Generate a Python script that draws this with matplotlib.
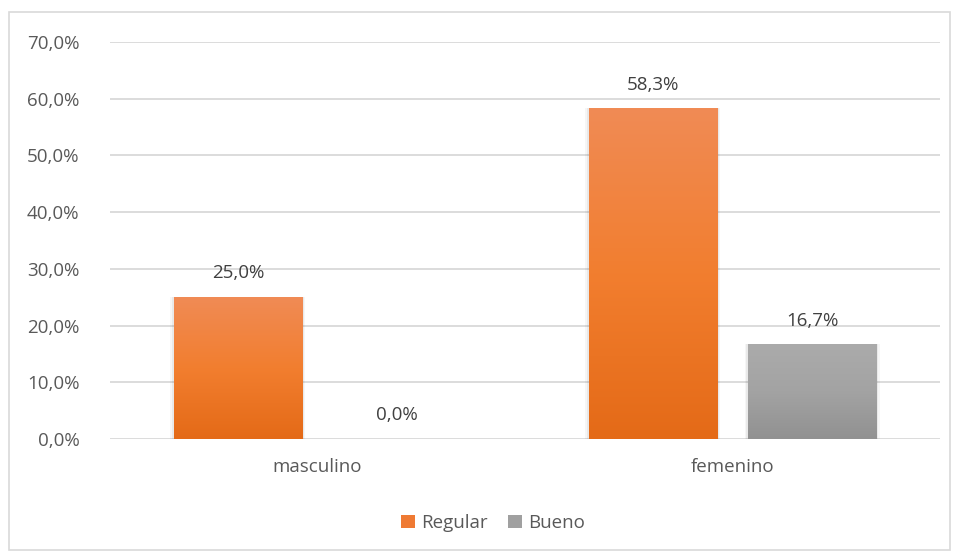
import numpy as np
import matplotlib.pyplot as plt
from matplotlib.colors import LinearSegmentedColormap
from matplotlib.patches import Rectangle

categories = ["masculino", "femenino"]
series_names = ["Regular", "Bueno"]
regular = [25.0, 58.3]
bueno = [0.0, 16.7]
yticks = [0, 10, 20, 30, 40, 50, 60, 70]

plt.rcParams['font.family'] = ['Open Sans', 'DejaVu Sans']
text_col = '#595959'
fs = 13.5

fig = plt.figure(figsize=(9.54, 5.55), dpi=100)
ax = fig.add_axes([110/954, 1 - 439/555, 830/954, 397/555])

# chart border
fig.patches.append(Rectangle((9/954, 5/555), 941/954, 538/555, transform=fig.transFigure,
                             fill=False, edgecolor='#D9D9D9', linewidth=1.2))

grads = {
    "Regular": LinearSegmentedColormap.from_list('o', ['#E46A17', '#F27E2F', '#F08B55']),
    "Bueno": LinearSegmentedColormap.from_list('g', ['#919191', '#A3A3A3', '#ABABAB']),
}

width = 0.309
offset = 0.192
x = np.arange(len(categories))

for vals, name, sign in [(regular, "Regular", -1), (bueno, "Bueno", 1)]:
    for xi, v in zip(x, vals):
        left = xi + sign * offset - width / 2
        if v > 0:
            # soft shadow
            for k, a in [(0.008, 0.035), (0.004, 0.05)]:
                ax.add_patch(Rectangle((left - k, -0.4), width + 2 * k, v + 0.4 + k * 15,
                                       facecolor='black', alpha=a, edgecolor='none', zorder=2))
            rect = Rectangle((left, 0), width, v, facecolor='none', edgecolor='none', zorder=3)
            ax.add_patch(rect)
            grad = np.linspace(0, 1, 256).reshape(-1, 1)
            im = ax.imshow(grad, cmap=grads[name], origin='lower', aspect='auto',
                           extent=(left, left + width, 0, v), zorder=3)
            im.set_clip_path(rect)
        ax.text(xi + sign * offset, v + 2.6, f"{v:.1f}%".replace('.', ','),
                ha='center', va='bottom', fontsize=fs, color='#404040')

ax.set_xlim(-0.5, 1.5)
ax.set_ylim(0, 70)
ax.set_yticks(yticks)
ax.set_yticklabels([f"{t:.1f}%".replace('.', ',') for t in yticks])
ax.set_xticks(x)
ax.set_xticklabels(categories)
ax.tick_params(axis='both', length=0, labelsize=fs, labelcolor=text_col)
ax.tick_params(axis='y', pad=22)
ax.tick_params(axis='x', pad=14)
ax.grid(axis='y', color='#D9D9D9', linewidth=1.3, zorder=0)
ax.set_axisbelow(True)
for s in ax.spines.values():
    s.set_visible(False)

handles = [Rectangle((0, 0), 1, 1, facecolor='#EF7A33'), Rectangle((0, 0), 1, 1, facecolor='#A0A0A0')]
fig.legend(handles, series_names, loc='center', bbox_to_anchor=(493/954, 1 - 523/555), ncol=2,
           frameon=False, fontsize=fs, labelcolor=text_col, handlelength=0.75, handleheight=0.75,
           handletextpad=0.3, columnspacing=1.1)

fig.savefig('out.png', dpi=100)
